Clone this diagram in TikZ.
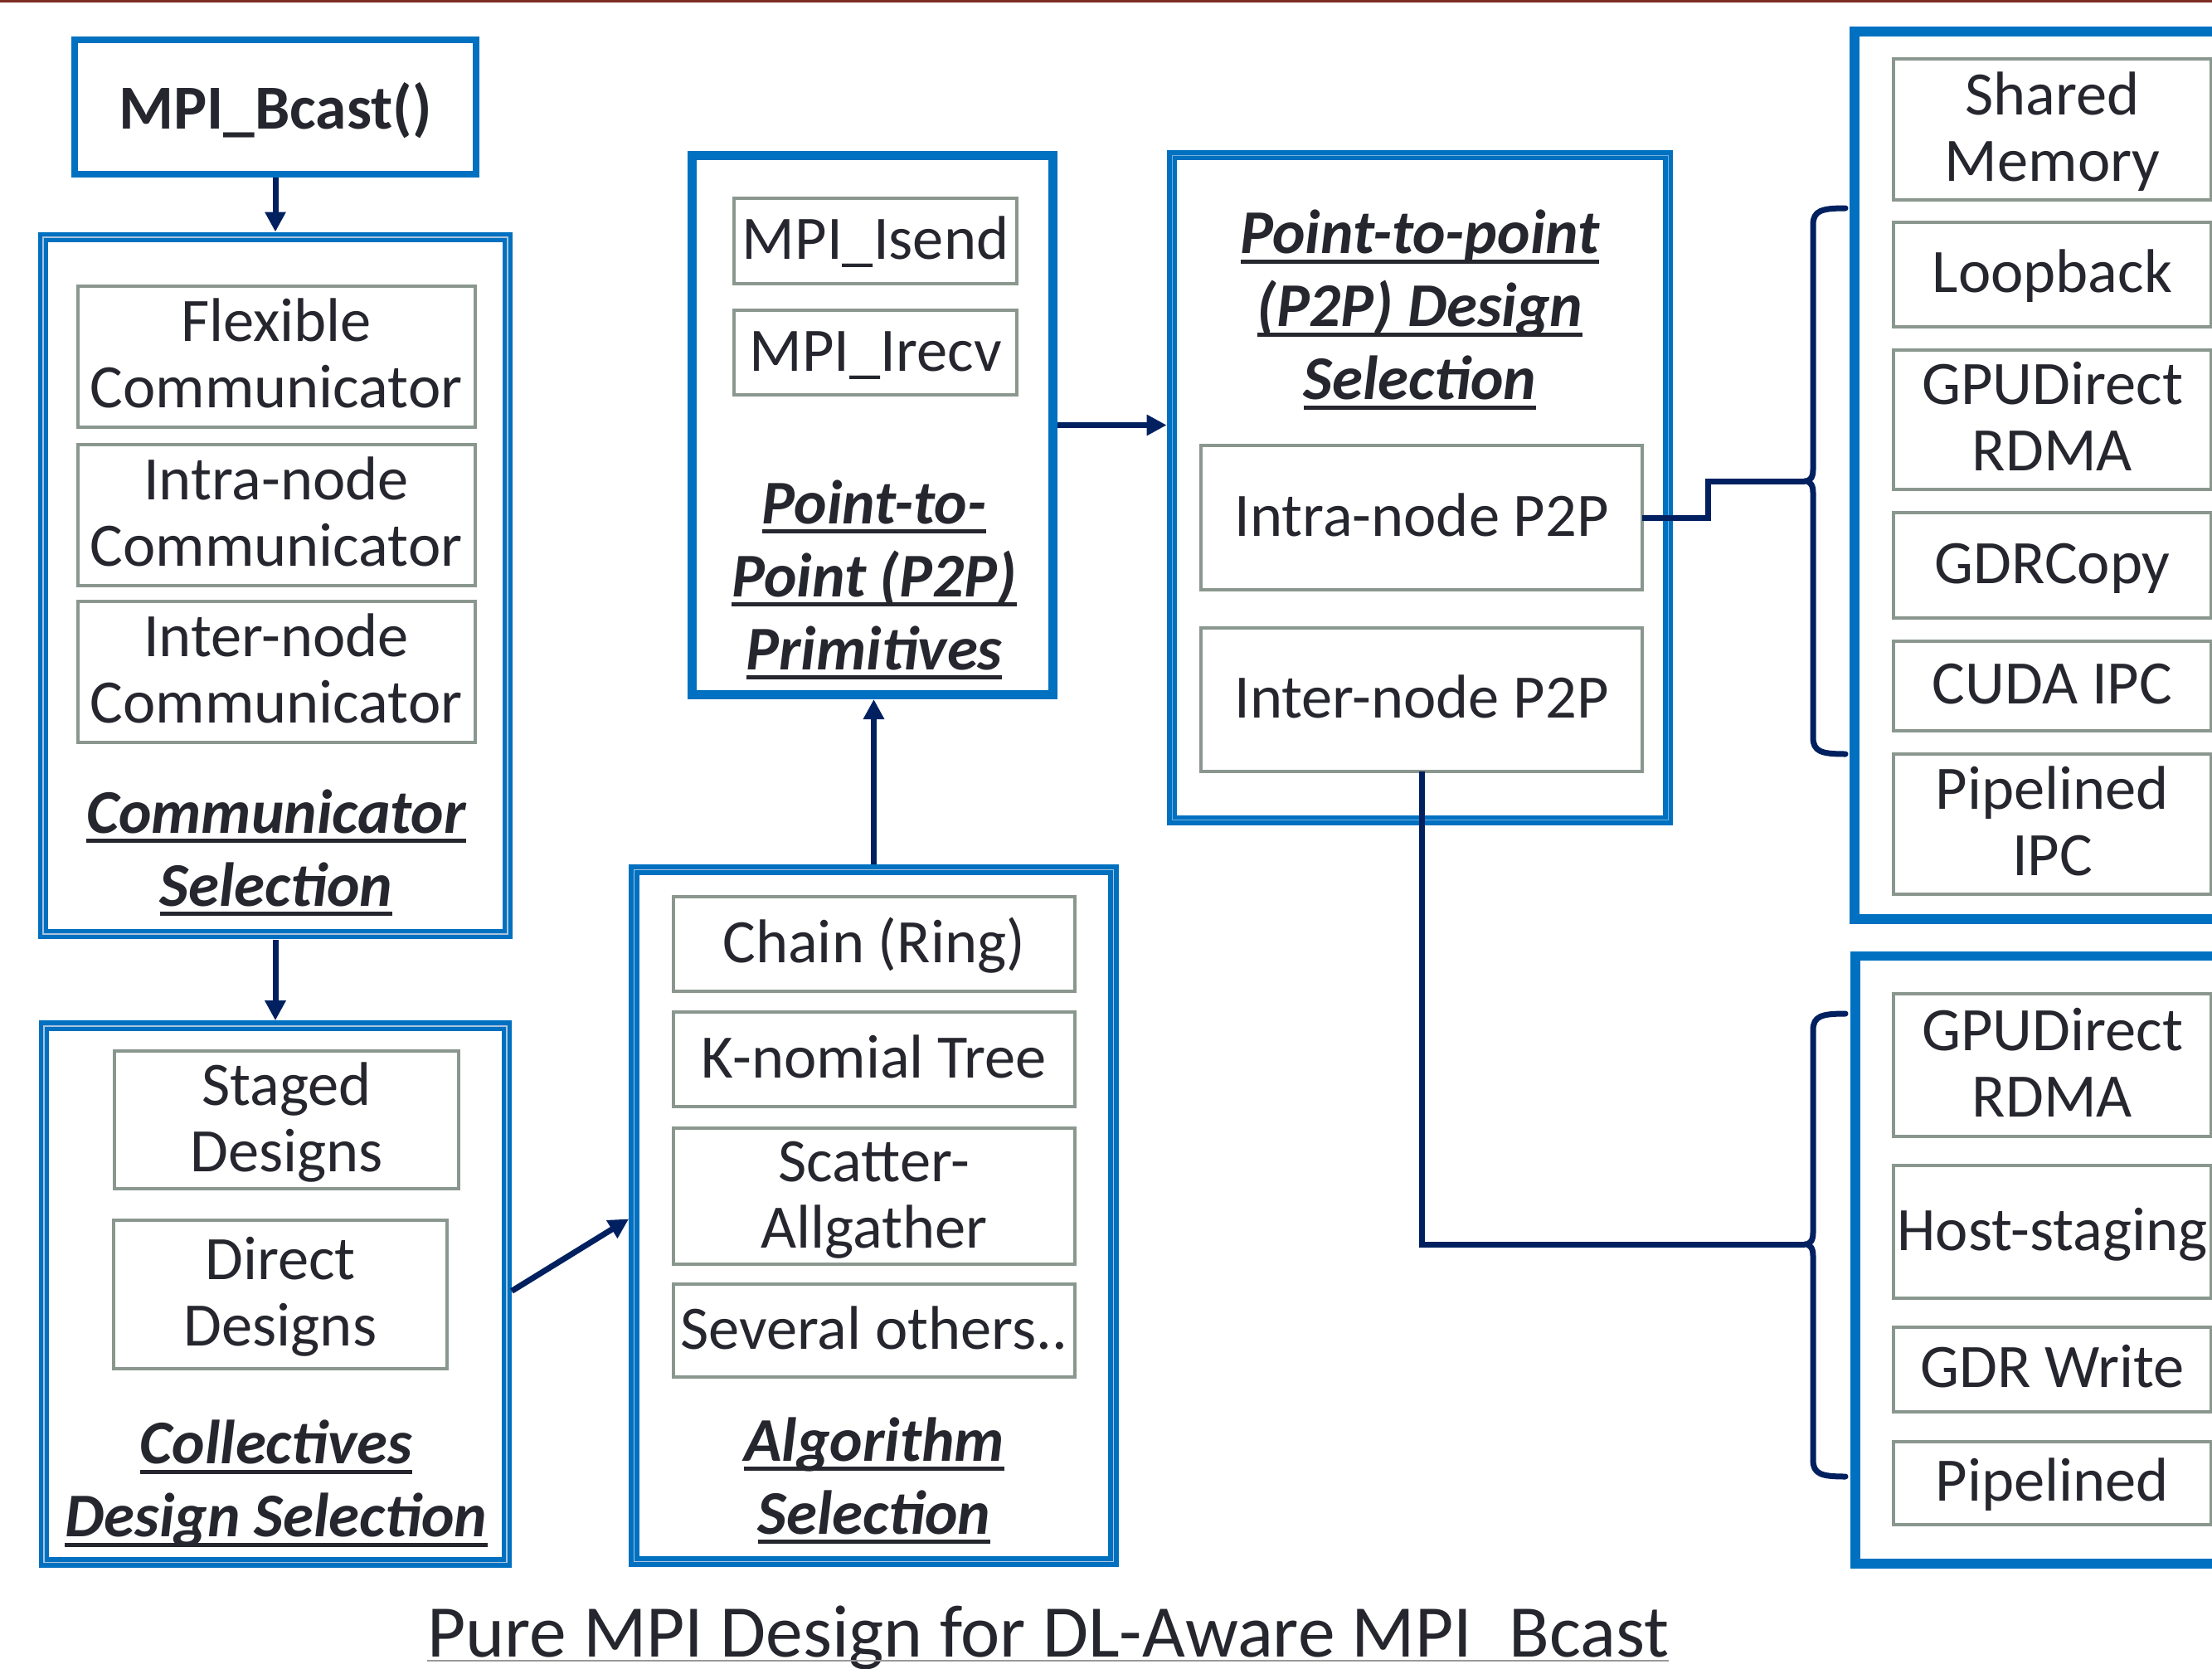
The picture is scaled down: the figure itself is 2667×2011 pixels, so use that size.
\documentclass[tikz,border=0pt]{standalone}
\usepackage{fontspec}
\setmainfont{Carlito}
\usetikzlibrary{arrows.meta,calc}

\definecolor{mblue}{HTML}{0070C0}
\definecolor{navy}{HTML}{002060}
\definecolor{boxgray}{HTML}{8A978E}
\definecolor{ink}{HTML}{26262F}
\definecolor{stripe}{HTML}{A9C4DE}
\definecolor{topline}{HTML}{7B2D24}

% underlined heading text: rule sized to the word box
\newsavebox\ulbox
\newcommand\ulw[1]{\sbox\ulbox{#1}\rlap{\rule[-0.16em]{\wd\ulbox}{0.065em}}\usebox\ulbox}
% fixed line boxes so every line sits at the same height
\newcommand\bstrut{\rule[-18pt]{0pt}{80pt}}
\newcommand\tstrut{\rule[-22pt]{0pt}{88pt}}
\newcommand\boxfont{\fontsize{74.5}{80}\selectfont}
\newcommand\headfont{\bfseries\itshape\fontsize{75}{88}\selectfont}

\begin{document}
\begin{tikzpicture}[x=1pt,y=-1pt,
  every node/.style={inner sep=0pt, outer sep=0pt, text=ink},
  single/.style={draw=mblue, line width=11pt, fill=white},
  twin/.style={draw=mblue, line width=5.6pt, double=stripe, double distance=1.6pt, fill=white},
  twinsoft/.style={draw=mblue, line width=5.8pt, double=mblue!55!white, double distance=1pt, fill=white},
  item/.style={draw=boxgray, line width=4pt, fill=white, align=center, font=\boxfont},
  head/.style={align=center, font=\headfont},
  link/.style={draw=navy, line width=7pt},
  flow/.style={link, -{Triangle[length=24pt,width=24pt]}},
  brace/.style={draw=navy, line width=7pt, line cap=round, line join=round}
]
\useasboundingbox (0,0) rectangle (2667,2011);
\fill[white] (0,0) rectangle (2667,2011);
\clip (0,0) rectangle (2667,2011);
\fill[topline] (0,0) rectangle (2667,3);

% entry point
\node[single, line width=8pt, minimum width=484pt, minimum height=162pt,
      font=\bfseries\fontsize{75.5}{88}\selectfont, text height=70pt, text depth=18pt]
      (bcast) at (332,129) {MPI\_Bcast()};

% communicator selection
\node[twin, minimum width=560pt, minimum height=840pt] (comm) at (332,706) {};
\node[item, minimum width=479pt, minimum height=170pt] (flex)  at (333,429.5) {Flexible\bstrut\\Communicator\bstrut};
\node[item, minimum width=479pt, minimum height=170pt] (intra) at (333,620.5) {Intra-node\bstrut\\Communicator\bstrut};
\node[item, minimum width=479pt, minimum height=170pt] (inter) at (333,809.5) {Inter-node\bstrut\\Communicator\bstrut};
\node[head] (commttl) at (333,1026) {\ulw{Communicator}\tstrut\\\ulw{Selection}\tstrut};

% collectives design selection
\node[twin, minimum width=558pt, minimum height=646.6pt] (coll) at (332,1560) {};
\node[item, minimum width=415pt, minimum height=166pt] (staged) at (345.5,1350) {Staged\bstrut\\Designs\bstrut};
\node[item, minimum width=402pt, minimum height=179pt] (direct) at (338,1560.5) {Direct\bstrut\\Designs\bstrut};
\node[head] (collttl) at (333,1786.5) {\ulw{Collectives}\tstrut\\\ulw{Design Selection}\tstrut};

% algorithm selection
\node[twin, minimum width=578pt, minimum height=834pt] (alg) at (1053.5,1465.5) {};
\node[item, minimum width=484.5pt, minimum height=114pt] (chain)   at (1053.75,1138) {Chain (Ring)\bstrut};
\node[item, minimum width=484.5pt, minimum height=114pt] (knom)    at (1053.75,1277) {K-nomial Tree\bstrut};
\node[item, minimum width=484.5pt, minimum height=164pt] (scat)    at (1053.75,1442) {Scatter-\bstrut\\Allgather\bstrut};
\node[item, minimum width=484.5pt, minimum height=112pt] (several) at (1053.75,1604) {Several others..\bstrut};
\node[head] (algttl) at (1054,1783) {\ulw{Algorithm}\tstrut\\\ulw{Selection}\tstrut};

% point-to-point primitives
\node[single, minimum width=435pt, minimum height=650pt] (prim) at (1052,512.5) {};
\node[item, minimum width=340.7pt, minimum height=103pt]   (isend) at (1055.6,290) {MPI\_Isend\bstrut};
\node[item, minimum width=340.7pt, minimum height=101.5pt] (irecv) at (1055.6,425) {MPI\_Irecv\bstrut};
\node[head] (primttl) at (1054,697) {\ulw{Point-to-}\tstrut\\\ulw{Point (P2P)}\tstrut\\\ulw{Primitives}\tstrut};

% point-to-point design selection
\node[twinsoft, minimum width=598pt, minimum height=801.7pt] (p2p) at (1712,588) {};
\node[head] (p2pttl) at (1712,371.5) {\ulw{Point-to-point}\tstrut\\\ulw{(P2P) Design}\tstrut\\\ulw{Selection}\tstrut};
\node[item, minimum width=531.5pt, minimum height=174pt] (intrap) at (1714,624)   {Intra-node P2P\bstrut};
\node[item, minimum width=531.5pt, minimum height=173pt] (interp) at (1714,843.5) {Inter-node P2P\bstrut};

% intra-node transports
\node[single, line width=11.7pt, minimum width=484pt, minimum height=1070pt] (intraset) at (2478,573) {};
\node[item, minimum width=383pt, minimum height=170pt]   (shm)     at (2474.5,156)   {Shared\bstrut\\Memory\bstrut};
\node[item, minimum width=383pt, minimum height=125.5pt] (loop)    at (2474.5,330.8) {Loopback\bstrut};
\node[item, minimum width=383pt, minimum height=168.5pt] (gpudA)   at (2474.5,505.8) {GPUDirect\bstrut\\RDMA\bstrut};
\node[item, minimum width=383pt, minimum height=127pt]   (gdrc)    at (2474.5,681.5) {GDRCopy\bstrut};
\node[item, minimum width=383pt, minimum height=108pt]   (ipc)     at (2474.5,826.5) {CUDA IPC\bstrut};
\node[item, minimum width=383pt, minimum height=169.4pt] (pipeipc) at (2474.5,993.3) {Pipelined\bstrut\\IPC\bstrut};

% inter-node transports
\node[single, line width=11.7pt, minimum width=483pt, minimum height=732.5pt] (interset) at (2478.5,1518.75) {};
\node[item, minimum width=383pt, minimum height=172pt]   (gpudB) at (2474.5,1284)    {GPUDirect\bstrut\\RDMA\bstrut};
\node[item, minimum width=383pt, minimum height=159.5pt] (host)  at (2474.5,1485)    {Host-staging\bstrut};
\node[item, minimum width=383pt, minimum height=101.5pt] (gdrw)  at (2474.5,1650.75) {GDR Write\bstrut};
\node[item, minimum width=383pt, minimum height=100.5pt] (pipe)  at (2474.5,1787.75) {Pipelined\bstrut};

% brace tips
\coordinate (b1) at (2176,580);
\coordinate (b2) at (2176,1500);
\foreach \t/\m/\b in {251/580/909, 1222/1500/1780} {
  \draw[brace] (2225,\t) .. controls (2196,\t) and (2186,\t+3) .. (2186,\t+20)
    -- (2186,\m-14) .. controls (2186,\m-5) and (2183,\m) .. (2176,\m)
    .. controls (2183,\m) and (2186,\m+5) .. (2186,\m+14)
    -- (2186,\b-20) .. controls (2186,\b-3) and (2196,\b) .. (2225,\b);
}

% flow arrows
\draw[flow, shorten <=4pt, shorten >=6.5pt] (bcast.south) -- (bcast.south |- comm.north);
\draw[flow, shorten <=6.5pt, shorten >=6.5pt] (comm.south) -- (comm.south |- coll.north);
\draw[flow, shorten <=7pt, shorten >=7.5pt] (coll.east) -- (alg.west);
\draw[flow, shorten <=6.5pt, shorten >=5.5pt] (alg.north) -- (alg.north |- prim.south);
\draw[flow, shorten <=5.5pt, shorten >=6.4pt] (prim.east) -- (prim.east -| p2p.west);

% links into the braces
\draw[link] (intrap.east) -- ++(80,0) |- (b1);
\draw[link] (interp.south) |- (b2);

% caption
\node[anchor=base west, font=\fontsize{89.5}{100}\selectfont] (caption) at (515,1997)
  {Pure MPI Design for DL-Aware MPI\phantom{\_}Bcast};
\draw[gray!80, line width=2pt] ($(caption.base west)+(0,5)$) -- ($(caption.base east)+(0,5)$);
\end{tikzpicture}
\end{document}
